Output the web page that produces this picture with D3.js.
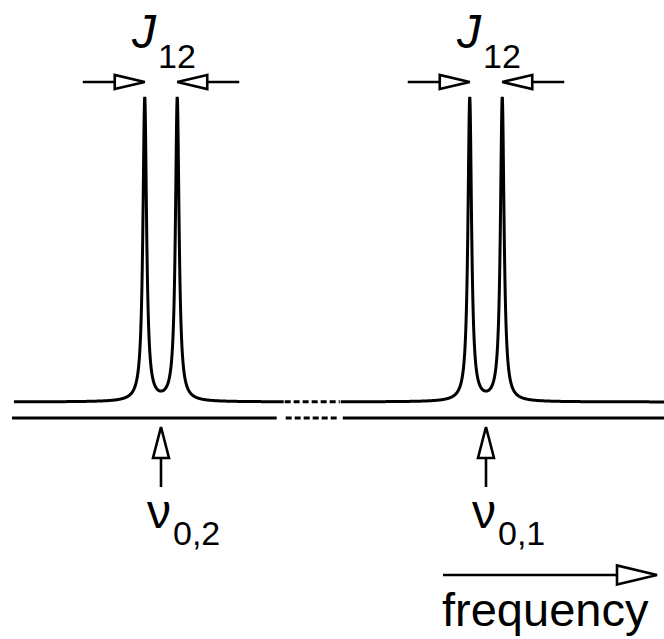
<!DOCTYPE html>
<html>
<head>
<meta charset="utf-8">
<script src="https://cdn.jsdelivr.net/npm/d3@7"></script>
<style>
  body { margin: 0; background: #fff; }
  text { font-family: "Liberation Sans", Arial, sans-serif; fill: #000; }
</style>
</head>
<body>
<script>
//chart values (frequency in arbitrary Hz-like units, intensity normalised to 1)
var doubletCenters = [100, 300];          // nu_0,2 and nu_0,1
var doubletSubscripts = ["0,2", "0,1"];
var couplingJ = [20, 20];                 // J12 splitting of each doublet
var halfWidth = 1.35;                     // lorentzian half width at half maximum
var peakHeight = 1;                       // tallest point of each line
var spectrumRange = [9.5, 410];           // drawn part of the spectrum
var axisRange = [8.3, 410];
var axisBreak = [175.5, 210];             // part of the axis shown as broken (dashed)

var width = 664;
var height = 639;

var svg = d3.select("body").append("svg")
    .attr("width", width)
    .attr("height", height);

//scales
var x = d3.scaleLinear().domain([0, 400]).range([-1.5, 648.5]);
var y = d3.scaleLinear().domain([0, 1]).range([402, 97]);
var axisY = 418;

//peak list from doublets
var peaks = [];
doubletCenters.forEach(function (c, i) {
    peaks.push(c - couplingJ[i] / 2);
    peaks.push(c + couplingJ[i] / 2);
});

//lorentzian line shape, amplitude chosen so every doublet top is peakHeight
var g2 = halfWidth * halfWidth;
var amp = peakHeight / (1 + g2 / (g2 + couplingJ[0] * couplingJ[0]));
function intensity(f) {
    var s = 0;
    peaks.forEach(function (p) { s += amp * g2 / (g2 + (f - p) * (f - p)); });
    return s;
}

function sampleRange(a, b) {
    var pts = [];
    for (var f = a; f <= b; f += 0.05) pts.push([f, intensity(f)]);
    pts.push([b, intensity(b)]);
    return pts;
}

var line = d3.line()
    .x(function (d) { return x(d[0]); })
    .y(function (d) { return y(d[1]); });

var specGroup = svg.append("g")
    .attr("fill", "none")
    .attr("stroke", "#000")
    .attr("stroke-width", 3);

//spectrum: solid, dashed across the break, solid again
specGroup.append("path").attr("d", line(sampleRange(spectrumRange[0], axisBreak[0])));
specGroup.append("path")
    .attr("d", line(sampleRange(axisBreak[0] + 0.6, axisBreak[1])))
    .attr("stroke-dasharray", "6,3");
specGroup.append("path").attr("d", line(sampleRange(axisBreak[1] + 0.6, spectrumRange[1])));

//frequency axis with the same break
specGroup.append("line")
    .attr("x1", x(axisRange[0])).attr("x2", x(axisBreak[0]) - 7)
    .attr("y1", axisY).attr("y2", axisY);
specGroup.append("line")
    .attr("x1", x(axisBreak[0]) + 2).attr("x2", x(axisBreak[1]))
    .attr("y1", axisY).attr("y2", axisY)
    .attr("stroke-dasharray", "6,3");
specGroup.append("line")
    .attr("x1", x(axisBreak[1]) + 3).attr("x2", x(axisRange[1]))
    .attr("y1", axisY).attr("y2", axisY);

//open-headed arrow: from (x1,y1) to tip (x2,y2)
function arrow(x1, y1, x2, y2, headLen, headHalf) {
    var dx = x2 - x1, dy = y2 - y1;
    var len = Math.sqrt(dx * dx + dy * dy);
    var ux = dx / len, uy = dy / len;
    var bx = x2 - ux * headLen, by = y2 - uy * headLen;
    var g = svg.append("g").attr("stroke", "#000").attr("stroke-width", 2.6);
    g.append("line").attr("x1", x1).attr("y1", y1).attr("x2", bx).attr("y2", by);
    g.append("polygon")
        .attr("points", [
            [bx - uy * headHalf, by + ux * headHalf],
            [x2, y2],
            [bx + uy * headHalf, by - ux * headHalf]
        ].map(function (p) { return p.join(","); }).join(" "))
        .attr("fill", "#fff")
        .attr("stroke-linejoin", "miter");
}

doubletCenters.forEach(function (c, i) {
    var pl = x(c - couplingJ[i] / 2);
    var pr = x(c + couplingJ[i] / 2);
    var cx = x(c);

    //J12 arrows pointing at the two lines
    arrow(pl - 62, 82, pl, 82, 30, 7);
    arrow(pr + 62, 82, pr, 82, 30, 7);

    //J12 label
    var jt = svg.append("text").attr("x", cx - 29).attr("y", 48).attr("font-size", 48);
    jt.append("tspan").attr("font-style", "italic").text("J");
    jt.append("tspan").attr("font-size", 34).attr("dy", 20).attr("dx", 2).text("12");

    //nu_0 arrow and label
    arrow(cx, 487, cx, 427, 31, 8);
    var nt = svg.append("text").attr("x", cx - 14).attr("y", 528).attr("font-size", 48);
    nt.append("tspan").text("ν");
    nt.append("tspan").attr("font-size", 34).attr("dy", 17).attr("dx", 2).text(doubletSubscripts[i]);
});

//frequency direction arrow
arrow(443, 575, 657, 575, 40, 9.5);
svg.append("text")
    .attr("x", 442).attr("y", 626)
    .attr("font-size", 47)
    .text("frequency");
</script>
</body>
</html>
